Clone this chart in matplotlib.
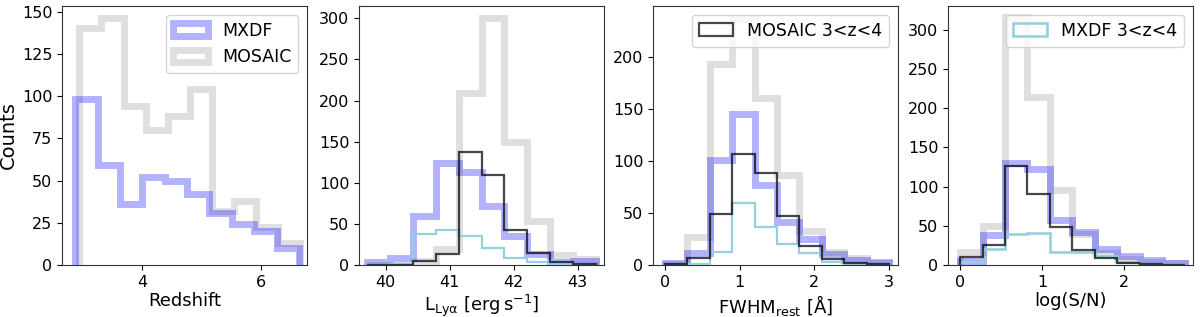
import numpy as np
import matplotlib
matplotlib.use("Agg")
import matplotlib.pyplot as plt

# ---------------- data ----------------
# Panel 1: Redshift
z_edges_mxdf = np.linspace(2.87, 6.64, 11)
z_edges_mosaic = np.linspace(2.94, 6.66, 11)
z_mxdf = [98, 59, 36, 52, 49.5, 42, 30.5, 24, 20, 10]
z_mosaic = [140, 146, 94, 80, 88, 104, 32, 38, 22.5, 13]

# Panel 2: L_Lya
l_edges = np.linspace(39.71, 43.28, 11)
l_mxdf = [4, 8, 60, 124, 113, 72, 35, 13, 4, 5]
l_mosaic = [0, 0, 5, 20, 209, 300, 150, 53, 12, 7]
l_mosaic_z34 = [0, 0, 5, 13, 137, 110, 42, 15, 4, 1]
l_mxdf_z34 = [0, 1, 38, 43, 35, 21, 9, 4, 1, 0]

# Panel 3: FWHM_rest
f_edges = np.linspace(0.0, 3.0, 11)
f_mxdf = [2, 12, 101, 145, 77, 41, 25, 11, 5, 3]
f_mosaic = [1, 27, 194, 237, 161, 87, 33, 13, 7, 2]
f_mosaic_z34 = [1, 7, 49, 107, 89, 47, 18, 6, 2, 1]
f_mxdf_z34 = [0, 1, 13, 60, 37, 20, 12, 3, 1, 0]

# Panel 4: log(S/N)
s_edges = np.linspace(0.0, 2.74, 11)
s_mxdf = [5, 38, 130, 123, 57, 42, 21, 11, 7, 3]
s_mosaic = [17, 50, 316, 214, 96, 40, 15, 8, 4, 2]
s_mosaic_z34 = [10, 25, 126, 90, 49, 19, 9, 2, 1, 0]
s_mxdf_z34 = [4, 20, 40, 41, 16, 17, 12, 4, 1, 0]

xlabels = ["Redshift", r"$\mathrm{L_{Ly\alpha}\ [erg\,s^{-1}]}$",
           r"$\mathrm{FWHM_{rest}\ [\AA]}$", "log(S/N)"]

# ---------------- style ----------------
plt.rcParams['font.family'] = ['DejaVu Sans']
plt.rcParams['font.size'] = 12
plt.rcParams['xtick.labelsize'] = 11.5
plt.rcParams['ytick.labelsize'] = 11.5
plt.rcParams['mathtext.default'] = 'regular'

C_MXDF = (0.0, 0.0, 1.0, 0.3)
C_MOSAIC = (0.5, 0.5, 0.5, 0.25)
C_MOS34 = (0.0, 0.0, 0.0, 0.72)
C_MXDF34 = '#95d0de'
LW_THICK = 5
LW_THIN = 1.6
LEG_FS = 12.5
XL_FS = 13
YL_FS = 14


def step(ax, edges, values, **kw):
    edges = np.asarray(edges)
    ax.hist(edges[:-1], bins=edges, weights=values, histtype='step', **kw)


W, H = 1200, 317
fig = plt.figure(figsize=(W / 100, H / 100), dpi=100)

lefts = [62, 359, 653, 948]
aw = 245
bottom = (H - 265) / H
height = (265 - 6) / H
axes = [fig.add_axes([l / W, bottom, aw / W, height]) for l in lefts]

# Panel 1
ax = axes[0]
step(ax, z_edges_mxdf, z_mxdf, color=C_MXDF, lw=LW_THICK, label='MXDF', zorder=3)
step(ax, z_edges_mosaic, z_mosaic, color=C_MOSAIC, lw=LW_THICK, label='MOSAIC', zorder=2)
ax.set_xlim(2.647, 6.775)
ax.set_ylim(0, 153.3)
ax.set_xticks([4, 6])
ax.set_yticks([0, 25, 50, 75, 100, 125, 150])
ax.set_ylabel('Counts', fontsize=YL_FS, labelpad=3)
ax.legend(loc='upper right', fontsize=LEG_FS)

# Panel 2
ax = axes[1]
step(ax, l_edges, l_mxdf, color=C_MXDF, lw=LW_THICK, zorder=3)
step(ax, l_edges, l_mosaic, color=C_MOSAIC, lw=LW_THICK, zorder=2)
step(ax, l_edges, l_mxdf_z34, color=C_MXDF34, lw=LW_THIN, zorder=4)
step(ax, l_edges, l_mosaic_z34, color=C_MOS34, lw=LW_THIN, zorder=5)
ax.set_xlim(39.58, 43.41)
ax.set_ylim(0, 315)
ax.set_xticks([40, 41, 42, 43])
ax.set_yticks([0, 50, 100, 150, 200, 250, 300])

# Panel 3
ax = axes[2]
step(ax, f_edges, f_mxdf, color=C_MXDF, lw=LW_THICK, zorder=3)
step(ax, f_edges, f_mosaic, color=C_MOSAIC, lw=LW_THICK, zorder=2)
step(ax, f_edges, f_mxdf_z34, color=C_MXDF34, lw=LW_THIN, zorder=4)
step(ax, f_edges, f_mosaic_z34, color=C_MOS34, lw=LW_THIN, zorder=5,
     label='MOSAIC 3<z<4')
ax.set_xlim(-0.16, 3.12)
ax.set_ylim(0, 249.5)
ax.set_xticks([0, 1, 2, 3])
ax.set_yticks([0, 50, 100, 150, 200])
ax.legend(loc='upper right', fontsize=LEG_FS)

# Panel 4
ax = axes[3]
step(ax, s_edges, s_mxdf, color=C_MXDF, lw=LW_THICK, zorder=3)
step(ax, s_edges, s_mosaic, color=C_MOSAIC, lw=LW_THICK, zorder=2)
step(ax, s_edges, s_mxdf_z34, color=C_MXDF34, lw=LW_THIN + 0.3, zorder=4,
     label='MXDF 3<z<4')
step(ax, s_edges, s_mosaic_z34, color=C_MOS34, lw=LW_THIN, zorder=5)
ax.set_xlim(-0.147, 2.84)
ax.set_ylim(0, 330.6)
ax.set_xticks([0, 1, 2])
ax.set_yticks([0, 50, 100, 150, 200, 250, 300])
ax.legend(loc='upper right', fontsize=LEG_FS)

for ax, lab in zip(axes, xlabels):
    ax.set_xlabel(lab, fontsize=XL_FS, labelpad=2)
    for s in ax.spines.values():
        s.set_color('#333333')

fig.savefig('out.png', dpi=100)
